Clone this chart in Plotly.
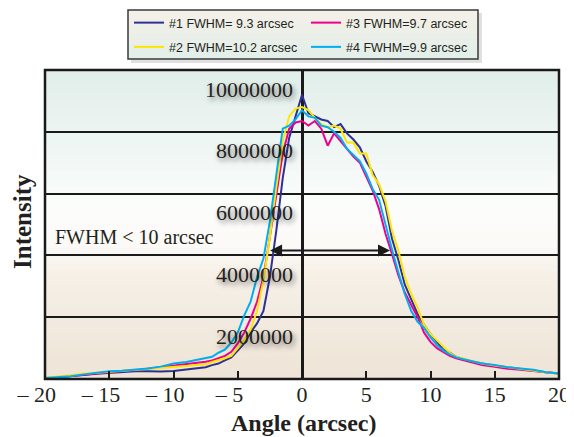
import plotly.graph_objects as go

# ---------------- data ----------------
ANGLE = [-20, -19, -18, -17, -16, -15, -14, -13, -12, -11, -10, -9, -8,
         -7.5, -7, -6.5, -6, -5.5, -5, -4.5, -4, -3.5, -3, -2.5, -2, -1.5, -1, -0.5,
         0, 0.5, 1, 1.5, 2, 2.5, 3, 3.5, 4, 4.5, 5, 5.5, 6, 6.5, 7, 7.5, 8, 8.5,
         9, 9.5, 10, 10.5, 11, 11.5, 12,
         13, 14, 15, 16, 17, 18, 19, 20]

# intensities in millions
S1 = [0.02, 0.05, 0.08, 0.13, 0.17, 0.2, 0.23, 0.25, 0.25, 0.24, 0.26, 0.3, 0.35,
      0.38, 0.45, 0.5, 0.6, 0.7, 0.92, 1.15, 1.5, 1.8, 2.2, 3.3, 4.8, 6.5, 7.8, 8.5,
      9.2, 8.6, 8.5, 8.4, 8.35, 8.15, 8.25, 7.95, 7.75, 7.5, 7.05, 6.7, 6.25, 5.6, 4.55,
      3.85, 3.05, 2.6, 2.1, 1.75, 1.45, 1.2, 0.95, 0.85, 0.72,
      0.58, 0.5, 0.43, 0.38, 0.32, 0.27, 0.22, 0.18]
S2 = [0.04, 0.07, 0.12, 0.17, 0.2, 0.24, 0.27, 0.29, 0.31, 0.34, 0.37, 0.42, 0.46,
      0.48, 0.55, 0.6, 0.67, 0.75, 1.0, 1.25, 1.6, 2.2, 3.2, 4.6, 6.2, 7.7, 8.5, 8.75,
      8.8, 8.7, 8.45, 8.25, 8.15, 8.2, 8.1, 7.65, 7.65, 7.3, 7.3, 6.6, 6.3, 5.75, 4.8,
      4.15, 3.3, 2.75, 2.3, 1.75, 1.45, 1.25, 1.05, 0.85, 0.72,
      0.6, 0.5, 0.44, 0.38, 0.33, 0.28, 0.22, 0.17]
S3 = [0.03, 0.05, 0.1, 0.14, 0.19, 0.23, 0.26, 0.28, 0.33, 0.36, 0.42, 0.48, 0.52,
      0.56, 0.6, 0.68, 0.75, 0.88, 1.15, 1.5, 1.95, 2.5, 3.3, 4.6, 5.9, 7.3, 8.1, 8.3,
      8.35, 8.2, 8.35, 8.1, 7.55, 7.95, 7.7, 7.45, 7.2, 7.0, 6.55, 6.1, 5.5, 4.7, 4.05,
      3.35, 2.8, 2.4, 2.0, 1.5, 1.2, 1.0, 0.88, 0.75, 0.67,
      0.55, 0.45, 0.4, 0.33, 0.3, 0.25, 0.22, 0.18]
S4 = [0.03, 0.06, 0.09, 0.15, 0.2, 0.25, 0.27, 0.3, 0.34, 0.4, 0.5, 0.55, 0.63,
      0.68, 0.72, 0.85, 0.95, 1.18, 1.5, 2.05, 2.5, 3.3, 3.9, 5.1, 6.6, 8.1, 8.2, 8.4,
      8.7, 8.5, 8.45, 8.2, 8.15, 8.0, 7.8, 7.45, 7.25, 7.05, 6.65, 6.15, 5.8, 4.95, 4.2,
      3.45, 2.75, 2.2, 1.85, 1.65, 1.35, 1.1, 0.92, 0.8, 0.7,
      0.6, 0.5, 0.45, 0.38, 0.34, 0.3, 0.22, 0.18]

NAMES = ["#1 FWHM= 9.3 arcsec", "#2 FWHM=10.2 arcsec",
         "#3 FWHM=9.7 arcsec", "#4 FWHM=9.9 arcsec"]
COLORS = ["#2e3192", "#ffe600", "#ec008c", "#00aeef"]

X_TICKS = [-20, -15, -10, -5, 0, 5, 10, 15, 20]
X_TICKTEXT = ["\u2013\u00a020\u00a0\u00a0\u00a0", "\u2013\u00a015\u00a0\u00a0\u00a0",
              "\u2013\u00a010\u00a0\u00a0\u00a0", "\u2013\u00a05\u00a0\u00a0\u00a0",
              "0", "5", "10", "15", "20"]
Y_TICKS = [2, 4, 6, 8, 10]
Y_TICKTEXT = ["2000000", "4000000", "6000000", "8000000", "10000000"]

ARROW_Y = 4.16
ARROW_X0, ARROW_X1 = -2.6, 6.85

# ---------------- figure ----------------
fig = go.Figure()
series = [(S1, 0, "legend"), (S3, 2, "legend2"), (S2, 1, "legend"), (S4, 3, "legend2")]
for vals, idx, lg in series:
    fig.add_trace(go.Scatter(
        x=ANGLE, y=vals, mode="lines", name=NAMES[idx],
        line=dict(color=COLORS[idx], width=2),
        legend=lg, legendgroup=NAMES[idx],
    ))

def lerp(c1, c2, t):
    return tuple(round(a + (b - a) * t) for a, b in zip(c1, c2))

stops = [(0.0, (238, 228, 214)), (0.35, (246, 240, 232)), (0.42, (251, 249, 245)),
         (0.55, (252, 253, 252)), (0.75, (239, 246, 243)), (1.0, (225, 238, 234))]

def grad(t):
    for (t0, c0), (t1, c1) in zip(stops[:-1], stops[1:]):
        if t0 <= t <= t1:
            return lerp(c0, c1, (t - t0) / (t1 - t0))
    return stops[-1][1]

shapes = []
N = 40
for i in range(N):
    t = (i + 0.5) / N
    c = grad(t)
    shapes.append(dict(type="rect", xref="paper", yref="paper",
                       x0=0, x1=1, y0=i / N, y1=min(1, (i + 1) / N + 0.002),
                       fillcolor="rgb(%d,%d,%d)" % c, line=dict(width=0), layer="below"))
shapes.append(dict(type="rect", xref="paper", yref="paper", x0=0, x1=1, y0=0, y1=1,
                   line=dict(color="#1a1a1a", width=2.5), layer="above"))

# page has an 8px body margin: figure drawn at (8, 8)
OFF = 8
W, H = 574 - OFF, 437 - OFF
PL, PR, PT, PB = 45, 559, 70, 379          # plot area in page pixels
LX0, LX1, LY0, LY1 = 128, 478, 10, 59      # legend box in page pixels

def px(xp):
    return (xp - PL) / (PR - PL)

def py(yp):
    return (PB - yp) / (PB - PT)

shapes.append(dict(type="rect", xref="paper", yref="paper",
                   x0=px(LX0 + 3), x1=px(LX1 + 4), y0=py(LY1 + 4), y1=py(LY0 + 3),
                   fillcolor="rgba(0,0,0,0.12)", line=dict(width=0), layer="above"))
NL = 10
c_top, c_bot = (245, 240, 232), (226, 239, 233)
for i in range(NL):
    c = lerp(c_top, c_bot, (i + 0.5) / NL)
    ya = LY0 + (LY1 - LY0) * i / NL
    yb = LY0 + (LY1 - LY0) * (i + 1) / NL
    shapes.append(dict(type="rect", xref="paper", yref="paper",
                       x0=px(LX0), x1=px(LX1), y0=py(yb + 0.3), y1=py(ya),
                       fillcolor="rgb(%d,%d,%d)" % c, line=dict(width=0), layer="above"))
shapes.append(dict(type="rect", xref="paper", yref="paper",
                   x0=px(LX0), x1=px(LX1), y0=py(LY1), y1=py(LY0),
                   line=dict(color="#3a3a3a", width=1.5), layer="above"))

serif = "Liberation Serif, Times New Roman, serif"
annotations = [
    dict(text="<b>Intensity</b>", xref="paper", yref="paper", x=px(22), y=py(222),
         textangle=-90, showarrow=False,
         font=dict(family=serif, size=25, color="#231f20"), xanchor="center", yanchor="middle"),
    dict(text="<b>Angle (arcsec)</b>", xref="paper", yref="paper", x=px(304), y=py(423),
         showarrow=False,
         font=dict(family=serif, size=24, color="#231f20"), xanchor="center", yanchor="middle"),
    dict(text="FWHM &lt; 10 arcsec", xref="paper", yref="paper", x=px(53), y=py(237),
         showarrow=False,
         font=dict(family=serif, size=20, color="#231f20"), xanchor="left", yanchor="middle"),
    dict(text="", x=ARROW_X1, y=ARROW_Y, ax=ARROW_X0, ay=ARROW_Y, xref="x", yref="y",
         axref="x", ayref="y", showarrow=True, arrowhead=2, startarrowhead=2,
         arrowside="end+start", arrowwidth=2, arrowsize=1.2, startarrowsize=1.2,
         arrowcolor="#1a1a1a"),
]
for v, t in zip(Y_TICKS, Y_TICKTEXT):
    annotations.append(dict(text=t, x=0, y=v, xref="x", yref="y", showarrow=False,
                            xanchor="right", yanchor="middle", xshift=-7, yshift=-19,
                            font=dict(family=serif, size=22, color="#231f20",
                                      shadow="2px 3px 5px rgba(0,0,0,0.5)")))

legend_font = dict(family="Liberation Sans, Arial, sans-serif", size=12.5, color="#231f20")
fig.update_layout(
    width=W, height=H,
    margin=dict(l=PL - OFF, r=W - (PR - OFF), t=PT - OFF, b=H - (PB - OFF), autoexpand=False),
    paper_bgcolor="white", plot_bgcolor="white",
    shapes=shapes, annotations=annotations,
    font=dict(family=serif, color="#231f20"),
    legend=dict(x=px(LX0 + 1), y=py(LY0 - 2),
                xanchor="left", yanchor="top", bgcolor="rgba(0,0,0,0)", borderwidth=0,
                font=legend_font, tracegroupgap=5),
    legend2=dict(x=px(306), y=py(LY0 - 2),
                 xanchor="left", yanchor="top", bgcolor="rgba(0,0,0,0)", borderwidth=0,
                 font=legend_font, tracegroupgap=5),
    xaxis=dict(range=[-20, 20], tickvals=X_TICKS, ticktext=X_TICKTEXT,
               ticks="inside", ticklen=8, tickwidth=2, tickcolor="#1a1a1a",
               showgrid=False, zeroline=True, zerolinecolor="#1a1a1a", zerolinewidth=2.5,
               showline=False,
               tickfont=dict(family=serif, size=22, color="#231f20")),
    yaxis=dict(range=[0, 10], tickvals=Y_TICKS, showticklabels=False,
               showgrid=True, gridcolor="#1a1a1a", gridwidth=2, zeroline=False,
               showline=False, ticks=""),
)

fig.write_html("out.html")
